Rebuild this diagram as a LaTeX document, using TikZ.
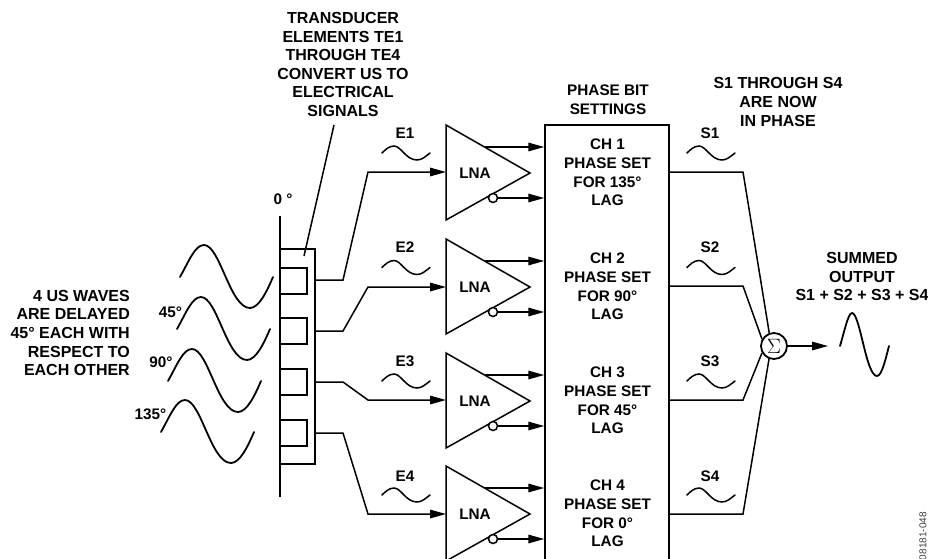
\documentclass[tikz,border=0pt]{standalone}
\usepackage{fontspec}
\setmainfont{Liberation Sans}
\usetikzlibrary{arrows.meta,calc}
\tikzset{
  wire/.style={line width=1.5pt,line join=miter},
  sig/.style={wire,-{Triangle[length=16pt,width=8.5pt]},shorten >=0pt},
  lbl/.style={font=\fontsize{15.3}{18.6}\selectfont\bfseries,align=center,inner sep=0pt,text=black},
  captext/.style={font=\fontsize{16}{18.6}\selectfont\bfseries,align=center,inner sep=0pt,text=black},
  bigwave/.pic={\draw[line width=1.8pt,line cap=round] (0,0) .. controls (9,-16) and (15,-32) .. (24,-32) .. controls (40,-32) and (50,31) .. (70,31) .. controls (79,31) and (87,14) .. (93,0);},
  tilde/.pic={\draw[line width=1.5pt,line cap=round] (0,0) .. controls (3,-3) and (7,-7) .. (12,-7) .. controls (19,-7) and (24,7) .. (35,7) .. controls (40,7) and (44,3) .. (48,0);},
  amp/.pic={\draw[wire] (0,-48) -- (84,0) -- (0,47) -- cycle;}
}
\begin{document}
\begin{tikzpicture}[x=1pt,y=-1pt]
\clip (0,0) rectangle (928,558);
\fill[white] (0,0) rectangle (928,558);
% phased channel block
\node[draw,wire,minimum width=124pt,minimum height=475pt,inner sep=0pt] (chan) at (607,362.5) {};
% transducer
\coordinate (rodtop) at (280,216);
\coordinate (rodbot) at (280,497);
\draw[wire] (rodtop) -- (rodbot);
\node[draw,wire,minimum width=35pt,minimum height=215pt,inner sep=0pt] (frame) at (297.5,356.5) {};
\foreach \n/\y in {1/281,2/331,3/382,4/433}{
  \node[draw,wire,minimum width=27pt,minimum height=26pt,inner sep=0pt] (te\n) at (293.5,\y) {};
}
% waves
\pic at (180,277) {bigwave};
\pic at (177,329) {bigwave};
\pic at (168,381) {bigwave};
\pic at (161,432) {bigwave};
% amplifiers and channels
\foreach \n/\y/\cy/\a/\b/\c/\d in {1/173/172/CH 1/PHASE SET/FOR 135°/LAG,2/287/286/CH 2/PHASE SET/FOR 90°/LAG,3/401/400/CH 3/PHASE SET/FOR 45°/LAG,4/514/514/CH 4/PHASE SET/FOR 0°/LAG}{
  \pic at (446,\y) {amp};
  \node[lbl] (lna\n) at (475,\y) {LNA};
  \coordinate (in\n) at (446,\y);
  \coordinate (upp\n) at (485,\y-26);
  \node[draw,circle,line width=1.5pt,minimum size=9pt,inner sep=0pt,fill=white] (bub\n) at (493,\y+25) {};
  \draw[sig] (upp\n) -- (upp\n -| chan.west);
  \draw[sig] (bub\n.east) -- (bub\n.east -| chan.west);
  \node[lbl] (ch\n) at (607.5,\y-0.5) {\a\\\b\\\c\\\d};
  \coordinate (out\n) at (669,\cy);
  \coordinate (bend\n) at (743,\cy);
}
% transducer outputs
\coordinate (k1a) at (343,280); \coordinate (k1b) at (368,172);
\coordinate (k2a) at (343,331); \coordinate (k2b) at (368,287);
\coordinate (k3a) at (343,382); \coordinate (k3b) at (368,400);
\coordinate (k4a) at (343,433); \coordinate (k4b) at (368,514);
\foreach \n in {1,2,3,4}{
  \draw[sig] (k\n a -| frame.east) -- (k\n a) -- (k\n b) -- (k\n b -| in\n);
}
% summer
\node[draw,circle,line width=1.8pt,minimum size=26pt,inner sep=0pt,fill=white] (sum) at (774,346) {\fontsize{20}{20}\selectfont$\Sigma$};
\draw[wire] (out1) -- (bend1) -- (sum.110);
\draw[wire] (out2) -- (bend2) -- (sum.150);
\draw[wire] (out3) -- (bend3) -- (sum.210);
\draw[wire] (out4) -- (bend4) -- (sum.249);
\coordinate (sumout) at (828,346);
\draw[sig] (sum.east) -- (sumout);
\draw[line width=1.8pt,line cap=round] (840,346) .. controls (844,333) and (848,313) .. (852,313) .. controls (860,313) and (866,376) .. (877,376) .. controls (882,376) and (886,357) .. (889,346);
% small signals
\foreach \x/\p/\lab in {382/E/E,687/S/S}{
  \foreach \n/\y/\ly in {1/153/133,2/267.5/247,3/381/361,4/495/476}{
    \pic at (\x,\y) {tilde};
    \node[lbl] (\p lab\n) at (\x+23,\ly) {\lab\n};
  }
}
% captions
\node[captext] (tecap) at (343,64.5) {TRANSDUCER\\ELEMENTS TE1\\THROUGH TE4\\CONVERT US TO\\ELECTRICAL\\SIGNALS};
\coordinate (tetip) at (304,256);
\coordinate (tetop) at (334,125);
\draw[wire] (tetop) -- (tetip);
\node[lbl] (pb) at (608,99.5) {PHASE BIT\\SETTINGS};
\node[captext] (inph) at (778,102) {S1 THROUGH S4\\ARE NOW\\IN PHASE};
\node[captext] (sumcap) at (862,276.5) {SUMMED\\OUTPUT\\S1 + S2 + S3 + S4};
\node[captext,align=right,anchor=east] (left) at (130,333) {4 US WAVES\\ARE DELAYED\\45° EACH WITH\\RESPECT TO\\EACH OTHER};
\node[lbl] (d0) at (283,199) {0 °};
\node[lbl] (d45) at (170.5,312) {45°};
\node[lbl] (d90) at (161,362) {90°};
\node[lbl] (d135) at (150.5,414) {135°};
\node[rotate=90,anchor=east,inner sep=0pt,font=\fontsize{10}{10}\selectfont,text=black!75] (code) at (923,512) {08181-048};
\end{tikzpicture}
\end{document}
